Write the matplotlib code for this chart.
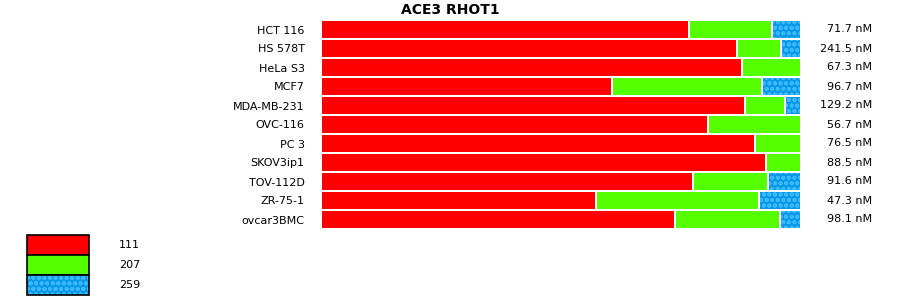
import numpy as np
import matplotlib.pyplot as plt
from matplotlib.patches import Rectangle

plt.rcParams['hatch.linewidth'] = 1.3

cell_lines = ['HCT 116', 'HS 578T', 'HeLa S3', 'MCF7', 'MDA-MB-231', 'OVC-116',
              'PC 3', 'SKOV3ip1', 'TOV-112D', 'ZR-75-1', 'ovcar3BMC']
values_nm = ['71.7 nM', '241.5 nM', '67.3 nM', '96.7 nM', '129.2 nM', '56.7 nM',
             '76.5 nM', '88.5 nM', '91.6 nM', '47.3 nM', '98.1 nM']
# percentages of each bar
p111 = [76.7, 86.7, 87.7, 60.6, 88.3, 80.6, 90.4, 92.7, 77.5, 57.3, 73.8]
p207 = [17.3, 9.2, 12.3, 31.3, 8.3, 19.4, 9.6, 7.3, 15.6, 34.0, 21.9]
p259 = [6.0, 4.1, 0.0, 8.1, 3.4, 0.0, 0.0, 0.0, 6.9, 8.7, 4.3]
groups = ['111', '207', '259']

red = '#ff0000'
green = '#55ff00'
blue = '#0a96e6'
dots = '#38b8ff'

W, H = 900, 299
fig = plt.figure(figsize=(W / 100, H / 100), dpi=100)
ax = fig.add_axes([320 / W, 1 - 229 / H, 481 / W, 209 / H])

y = np.arange(len(cell_lines))
a = np.array(p111)
b = np.array(p207)
c = np.array(p259)

ax.barh(y, a, height=1.0, color=red, edgecolor='white', linewidth=1.45)
ax.barh(y, b, left=a, height=1.0, color=green, edgecolor='white', linewidth=1.45)
ax.barh(y, c, left=a + b, height=1.0, color=blue, edgecolor=dots, linewidth=0,
        hatch='ooo')
ax.barh(y, c, left=a + b, height=1.0, fill=False, edgecolor='white', linewidth=1.45)

ax.set_xlim(-0.2, 100)
ax.set_ylim(len(cell_lines) - 0.5, -0.5)
ax.set_yticks(y)
ax.set_yticklabels(cell_lines, fontsize=8)
ax.tick_params(axis='y', length=0, pad=11)
ax.set_xticks([])
for s in ax.spines.values():
    s.set_visible(False)

for i, v in enumerate(values_nm):
    ax.annotate(v, xy=(1, i), xycoords=('axes fraction', 'data'),
                xytext=(71 * 0.72, 0), textcoords='offset points',
                ha='right', va='center', fontsize=8)

fig.text(450 / W, 1 - 10 / H, 'ACE3 RHOT1', ha='center', va='center',
         fontsize=10, fontweight='bold')

# legend
lax = fig.add_axes([0, 0, 1, 1])
lax.set_xlim(0, W)
lax.set_ylim(H, 0)
lax.axis('off')
tops = [235, 255, 275]
cols = [red, green, blue]
for t, col, g in zip(tops, cols, groups):
    if col == blue:
        lax.add_patch(Rectangle((27, t), 62, 19.5, facecolor=col, edgecolor=dots,
                                linewidth=0, hatch='ooo'))
        lax.add_patch(Rectangle((27, t), 62, 19.5, fill=False, edgecolor='black',
                                linewidth=1.2))
    else:
        lax.add_patch(Rectangle((27, t), 62, 19.5, facecolor=col, edgecolor='black',
                                linewidth=1.2))
    lax.text(119, t + 10, g, ha='left', va='center', fontsize=8)

fig.savefig('out.png', dpi=100)
